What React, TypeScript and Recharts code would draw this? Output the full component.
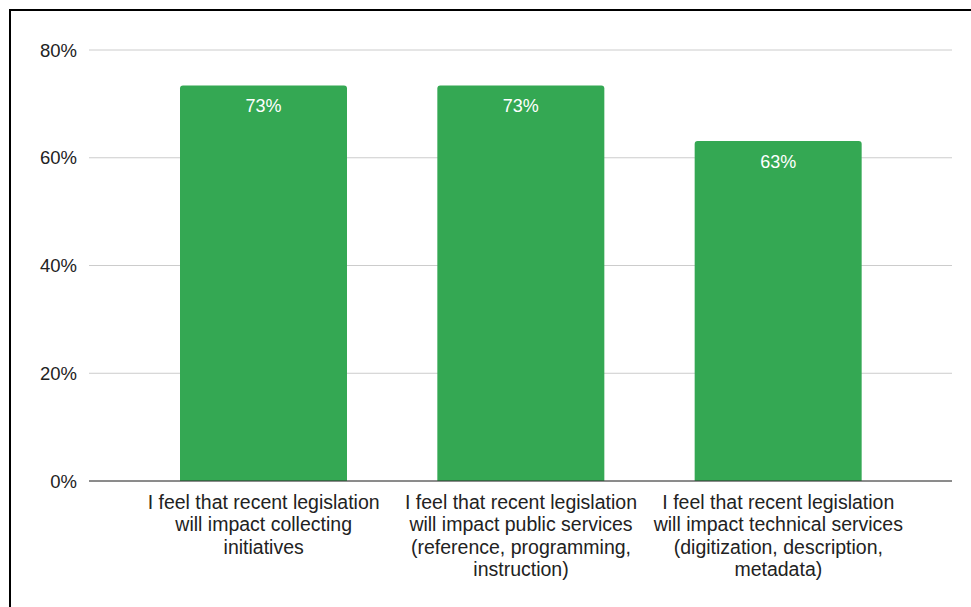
import { Bar, BarChart, CartesianGrid, LabelList, XAxis, YAxis } from 'recharts';

const categories = [
  'I feel that recent legislation will impact collecting initiatives',
  'I feel that recent legislation will impact public services (reference, programming, instruction)',
  'I feel that recent legislation will impact technical services (digitization, description, metadata)',
];
const agreeShare = [73.4, 73.4, 63.1];
const yTicks = [0, 20, 40, 60, 80];

const data = categories.map((label, i) => ({ label, value: agreeShare[i] }));

const font = '"Liberation Sans", Arial, sans-serif';
const tickFontSize = 19.5;

let ctx: CanvasRenderingContext2D | null = null;
function measure(s: string) {
  if (!ctx) {
    ctx = document.createElement('canvas').getContext('2d');
    if (ctx) ctx.font = `${tickFontSize}px ${font}`;
  }
  return ctx ? ctx.measureText(s).width : s.length * tickFontSize * 0.5;
}

function wrap(text: string, maxWidth: number) {
  const lines: string[] = [];
  let cur = '';
  for (const w of text.split(' ')) {
    const next = cur ? `${cur} ${w}` : w;
    if (cur && measure(next) > maxWidth) {
      lines.push(cur);
      cur = w;
    } else {
      cur = next;
    }
  }
  if (cur) lines.push(cur);
  return lines;
}

function CategoryTick(props: any) {
  const { x, y, payload } = props;
  const lines = wrap(payload.value, 255);
  return (
    <text x={x} y={y} textAnchor="middle" fill="#222" fontSize={tickFontSize} fontFamily={font}>
      {lines.map((line, i) => (
        <tspan key={i} x={x} dy={i === 0 ? '0.71em' : 22.5}>
          {line}
        </tspan>
      ))}
    </text>
  );
}

export default function App() {
  return (
    <div style={{ position: 'absolute', left: 0, top: 0, width: 971, height: 607, background: '#fff', fontFamily: font }}>
      <div
        style={{
          position: 'absolute',
          left: 9,
          top: 9,
          width: 962,
          height: 598,
          borderTop: '2px solid #000',
          borderLeft: '2px solid #000',
        }}
      />
      <BarChart width={971} height={607} data={data} margin={{ top: 50, right: 19, bottom: 0, left: 0 }}>
        <CartesianGrid vertical={false} stroke="#ccc" />
        <XAxis
          dataKey="label"
          height={126}
          interval={0}
          padding={{ left: 46, right: 45 }}
          axisLine={{ stroke: '#333' }}
          tickLine={false}
          tickMargin={8}
          tick={<CategoryTick />}
        />
        <YAxis
          width={89}
          domain={[0, 80]}
          ticks={yTicks}
          tickFormatter={(v) => `${v}%`}
          axisLine={false}
          tickLine={false}
          tickMargin={6}
          tick={{ fontSize: 18.5, fill: '#222', fontFamily: font }}
        />
        <Bar dataKey="value" fill="#34a853" barSize={167} radius={[3, 3, 0, 0]} isAnimationActive={false}>
          <LabelList
            dataKey="value"
            position="insideTop"
            offset={14}
            formatter={(v: any) => `${Math.round(v)}%`}
            fill="#fff"
            fontSize={18}
            fontFamily={font}
          />
        </Bar>
      </BarChart>
    </div>
  );
}
